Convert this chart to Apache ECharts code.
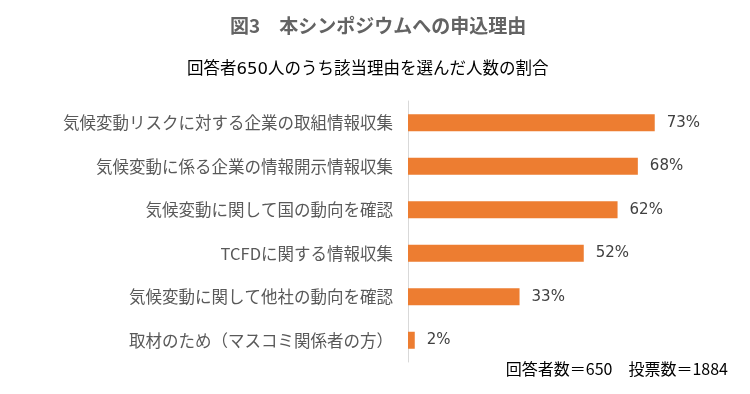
<!DOCTYPE html>
<html>
<head>
<meta charset="utf-8">
<script src="https://cdn.jsdelivr.net/npm/echarts@6/dist/echarts.min.js"></script>
<style>
html,body{margin:0;padding:0;background:#fff;}
#c{width:750px;height:394px;}
</style>
</head>
<body>
<div id="c"></div>
<script>
var categories = [
  '気候変動リスクに対する企業の取組情報収集',
  '気候変動に係る企業の情報開示情報収集',
  '気候変動に関して国の動向を確認',
  'TCFDに関する情報収集',
  '気候変動に関して他社の動向を確認',
  '取材のため（マスコミ関係者の方）'
];
var percentValues = [73, 68, 62, 52, 33, 2];
var titleText = '図3　本シンポジウムへの申込理由';
var subtitleText = '回答者650人のうち該当理由を選んだ人数の割合';
var footerText = '回答者数＝650　投票数＝1884';

var FONT = '"Noto Sans CJK JP", "Noto Sans", sans-serif';
var WIDE = '"DejaVu Sans", "Noto Sans CJK JP", sans-serif';
var chart = echarts.init(document.getElementById('c'));
chart.setOption({
  animation: false,
  backgroundColor: '#ffffff',
  grid: { left: 408, right: 4, top: 101, bottom: 32, containLabel: false },
  xAxis: {
    type: 'value', min: 0, max: 100, show: false
  },
  yAxis: {
    type: 'category',
    data: categories,
    inverse: true,
    axisLine: { show: true, lineStyle: { color: '#D9D9D9', width: 1 } },
    axisTick: { show: false },
    axisLabel: { color: '#595959', fontSize: 16.5, fontFamily: FONT, margin: 15 }
  },
  series: [{
    type: 'bar',
    data: percentValues,
    barWidth: 17,
    itemStyle: { color: '#ED7D31' },
    label: {
      show: true,
      position: 'right',
      distance: 12,
      formatter: '{c}%',
      color: '#404040',
      fontSize: 15,
      fontFamily: WIDE
    }
  }],
  graphic: [
    { type: 'text', left: 230, top: 16,
      style: { text: titleText, fontSize: 19, fontWeight: 'bold', fill: '#636363', fontFamily: FONT } },
    { type: 'text', left: 187, top: 61,
      style: { text: subtitleText, fontSize: 16.5, fill: '#000000', fontFamily: WIDE } },
    { type: 'text', right: 22, top: 361,
      style: { text: footerText, fontSize: 16, fill: '#000000', fontFamily: FONT } }
  ]
});
</script>
</body>
</html>
